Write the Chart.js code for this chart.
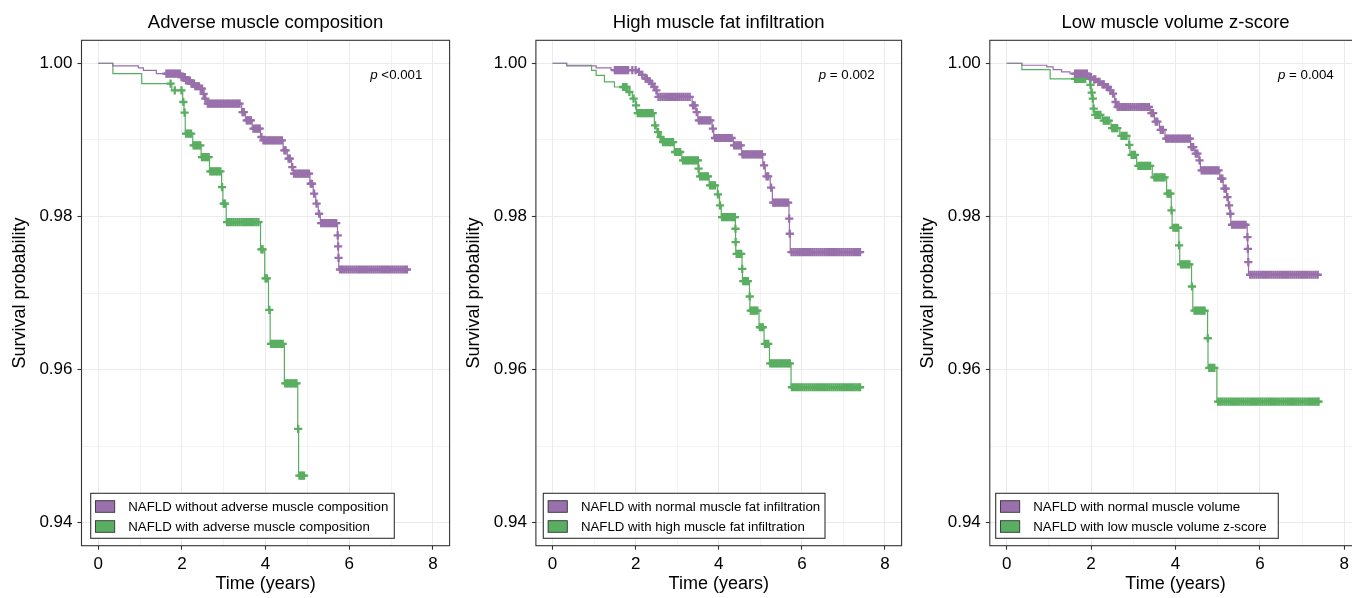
<!DOCTYPE html>
<html>
<head>
<meta charset="utf-8">
<title>NAFLD survival by muscle composition</title>
<script src="https://cdn.jsdelivr.net/npm/chart.js@4.4.1/dist/chart.umd.min.js"></script>
<style>
  html, body { margin: 0; padding: 0; background: #fff; overflow: hidden; }
  body { width: 1352px; height: 598px; position: relative; }
  .panel { position: absolute; top: 0; height: 598px; }
</style>
</head>
<body>
<div class="panel" style="left:0;width:456px"><canvas id="amc"></canvas></div>
<div class="panel" style="left:456px;width:452px"><canvas id="mfi"></canvas></div>
<div class="panel" style="left:908px;width:460px"><canvas id="mvz"></canvas></div>

<script>
// ── 軸刻度 ────────────────────────────────────────────────
const xTicks  = [0, 1, 2, 3, 4, 5, 6, 7, 8];
const xLabels = [0, 2, 4, 6, 8];
const yTicks  = [0.94, 0.95, 0.96, 0.97, 0.98, 0.99, 1.00];
const yLabels = [0.94, 0.96, 0.98, 1.00];

const panelTitles = ['Adverse muscle composition', 'High muscle fat infiltration', 'Low muscle volume z-score'];
const pValues     = ['<0.001', '= 0.002', '= 0.004'];

// ── Panel 1: adverse muscle composition ───────────────────
const amcLabels = ['NAFLD without adverse muscle composition', 'NAFLD with adverse muscle composition'];

const amcNoT = [0, 0.35, 0.96, 1.08, 1.39, 1.97, 2.10, 2.20, 2.32, 2.42, 2.50, 2.54, 2.60, 3.43, 3.52, 3.68, 3.88, 3.93,
  4.42, 4.52, 4.62, 4.66, 5.06, 5.14, 5.20, 5.26, 5.31, 5.72, 5.73, 5.74, 5.75, 7.41];
const amcNoS = [1, 0.99965, 0.99939, 0.99908, 0.99865, 0.9982, 0.99775, 0.99735, 0.9970, 0.9967, 0.9960, 0.99539, 0.99473,
  0.99363, 0.99255, 0.99146, 0.99037, 0.98993, 0.98863, 0.98754, 0.98644, 0.98558, 0.98427, 0.98297, 0.98166, 0.98035,
  0.97913, 0.97752, 0.97608, 0.9746, 0.97307, 0.97307];
const amcNoCens = [1.63, 1.67, 1.71, 1.75, 1.79, 1.83, 1.87, 1.91, 1.95, 1.99, 2.03, 2.07, 2.10, 2.13, 2.16, 2.19, 2.23,
  2.26, 2.29, 2.32, 2.35, 2.38, 2.41, 2.45, 2.48, 2.52, 2.56, 2.62, 2.66, 2.70, 2.74, 2.78, 2.82, 2.86, 2.90, 2.94, 2.98,
  3.02, 3.06, 3.10, 3.14, 3.18, 3.22, 3.26, 3.30, 3.34, 3.38, 3.45, 3.48, 3.55, 3.58, 3.62, 3.65, 3.71, 3.75, 3.79, 3.83,
  3.86, 3.90, 3.95, 3.99, 4.03, 4.07, 4.11, 4.15, 4.19, 4.23, 4.27, 4.31, 4.35, 4.39, 4.45, 4.48, 4.55, 4.58, 4.64, 4.68,
  4.72, 4.76, 4.80, 4.84, 4.88, 4.92, 4.96, 5.00, 5.04, 5.08, 5.11, 5.16, 5.22, 5.28, 5.33, 5.37, 5.41, 5.45, 5.49, 5.53,
  5.57, 5.61, 5.65, 5.69, 5.725, 5.735, 5.745, 5.78, 5.83, 5.88, 5.93, 5.98, 6.03, 6.08, 6.13, 6.18, 6.23, 6.28, 6.33,
  6.38, 6.43, 6.48, 6.53, 6.58, 6.63, 6.68, 6.73, 6.78, 6.83, 6.88, 6.93, 6.98, 7.03, 7.08, 7.13, 7.18, 7.23, 7.28, 7.33,
  7.38];

const amcAdvT = [0, 0.35, 1.04, 1.76, 2.02, 2.05, 2.08, 2.26, 2.46, 2.66, 2.95, 2.98, 3.06, 3.88, 3.98, 4.07, 4.11, 4.45,
  4.77, 4.79, 4.92];
const amcAdvS = [1, 0.99865, 0.99735, 0.99647, 0.99494, 0.99355, 0.99081, 0.98928, 0.98775, 0.98588, 0.98383, 0.98166,
  0.97926, 0.97569, 0.9719, 0.9678, 0.96336, 0.95821, 0.95225, 0.94614, 0.94614];
const amcAdvCens = [1.73, 1.83, 1.99, 2.035, 2.065, 2.10, 2.14, 2.18, 2.22, 2.28, 2.32, 2.36, 2.40, 2.44, 2.48, 2.52, 2.56,
  2.60, 2.64, 2.68, 2.72, 2.76, 2.80, 2.84, 2.88, 2.92, 2.96, 3.00, 3.03, 3.08, 3.13, 3.18, 3.23, 3.28, 3.33, 3.38, 3.43,
  3.48, 3.53, 3.58, 3.63, 3.68, 3.73, 3.78, 3.83, 3.90, 3.93, 4.00, 4.03, 4.09, 4.13, 4.17, 4.21, 4.25, 4.29, 4.33, 4.37,
  4.41, 4.47, 4.51, 4.55, 4.59, 4.63, 4.67, 4.71, 4.74, 4.78, 4.81, 4.85, 4.88, 4.92];

// ── Panel 2: high muscle fat infiltration ─────────────────
const mfiLabels = ['NAFLD with normal muscle fat infiltration', 'NAFLD with high muscle fat infiltration'];

const mfiNormT = [0, 0.34, 1.05, 1.41, 2.05, 2.13, 2.21, 2.30, 2.36, 2.42, 2.48, 2.52, 3.36, 3.45, 3.50, 3.84, 3.88, 4.35,
  4.55, 5.06, 5.12, 5.24, 5.29, 5.69, 5.70, 5.72, 7.40];
const mfiNormS = [1, 0.99965, 0.99939, 0.9991, 0.99887, 0.9985, 0.998, 0.99765, 0.99735, 0.9969, 0.99647, 0.9956, 0.99451,
  0.99363, 0.99255, 0.99146, 0.99024, 0.98928, 0.9881, 0.98667, 0.98523, 0.98375, 0.98179, 0.9797, 0.97774, 0.97533,
  0.97533];
const mfiNormCens = [1.50, 1.54, 1.58, 1.62, 1.66, 1.70, 1.74, 1.78, 1.82, 1.92, 2.00, 2.08, 2.16, 2.24, 2.27, 2.33, 2.39,
  2.45, 2.50, 2.55, 2.60, 2.65, 2.70, 2.75, 2.80, 2.85, 2.90, 2.95, 3.00, 3.05, 3.10, 3.15, 3.20, 3.25, 3.30, 3.38, 3.42,
  3.47, 3.52, 3.56, 3.60, 3.64, 3.68, 3.72, 3.76, 3.80, 3.86, 3.91, 3.95, 3.99, 4.03, 4.07, 4.11, 4.15, 4.19, 4.23, 4.27,
  4.31, 4.37, 4.41, 4.45, 4.49, 4.53, 4.57, 4.61, 4.65, 4.69, 4.73, 4.77, 4.81, 4.85, 4.89, 4.93, 4.97, 5.01, 5.04, 5.09,
  5.15, 5.19, 5.26, 5.31, 5.35, 5.39, 5.43, 5.47, 5.51, 5.55, 5.59, 5.63, 5.67, 5.695, 5.71, 5.75, 5.80, 5.85, 5.90, 5.95,
  6.00, 6.05, 6.10, 6.15, 6.20, 6.25, 6.30, 6.35, 6.40, 6.45, 6.50, 6.55, 6.60, 6.65, 6.70, 6.75, 6.80, 6.85, 6.90, 6.95,
  7.00, 7.05, 7.10, 7.15, 7.20, 7.25, 7.30, 7.35, 7.40];

const mfiHighT = [0, 0.34, 0.94, 1.05, 1.25, 1.49, 1.80, 1.92, 2.00, 2.02, 2.45, 2.51, 2.58, 2.62, 2.93, 3.11, 3.51, 3.52,
  3.77, 3.97, 4.02, 4.06, 4.40, 4.405, 4.41, 4.56, 4.57, 4.74, 4.75, 4.97, 5.09, 5.22, 5.74, 7.40];
const mfiHighS = [1, 0.99974, 0.99908, 0.99843, 0.99756, 0.9969, 0.99625, 0.99538, 0.99451, 0.9935, 0.9919, 0.99102,
  0.99037, 0.98971, 0.98841, 0.98732, 0.98624, 0.98523, 0.98405, 0.98288, 0.98144, 0.97991, 0.97839, 0.97664, 0.97512,
  0.97316, 0.97154, 0.96954, 0.96771, 0.96553, 0.96336, 0.96082, 0.95769, 0.95769];
const mfiHighCens = [1.70, 1.74, 1.78, 1.85, 1.95, 2.01, 2.05, 2.09, 2.13, 2.17, 2.21, 2.25, 2.29, 2.33, 2.37, 2.41, 2.47,
  2.54, 2.60, 2.66, 2.70, 2.74, 2.78, 2.82, 2.86, 2.90, 2.95, 2.99, 3.03, 3.07, 3.14, 3.18, 3.22, 3.26, 3.30, 3.34, 3.38,
  3.42, 3.46, 3.50, 3.515, 3.55, 3.59, 3.63, 3.67, 3.71, 3.74, 3.79, 3.83, 3.87, 3.91, 3.98, 4.03, 4.08, 4.12, 4.16, 4.20,
  4.24, 4.28, 4.32, 4.36, 4.39, 4.402, 4.407, 4.43, 4.47, 4.51, 4.54, 4.565, 4.59, 4.63, 4.67, 4.70, 4.745, 4.77, 4.81,
  4.85, 4.89, 4.93, 4.99, 5.03, 5.06, 5.11, 5.15, 5.19, 5.24, 5.28, 5.32, 5.36, 5.40, 5.44, 5.48, 5.52, 5.56, 5.60, 5.64,
  5.68, 5.71, 5.76, 5.81, 5.86, 5.91, 5.96, 6.01, 6.06, 6.11, 6.16, 6.21, 6.26, 6.31, 6.36, 6.41, 6.46, 6.51, 6.56, 6.61,
  6.66, 6.71, 6.76, 6.81, 6.86, 6.91, 6.96, 7.01, 7.06, 7.11, 7.16, 7.21, 7.26, 7.31, 7.36, 7.40];

// ── Panel 3: low muscle volume z-score ────────────────────
const mvzLabels = ['NAFLD with normal muscle volume', 'NAFLD with low muscle volume z-score'];

const mvzNormT = [0, 0.36, 0.95, 1.10, 1.30, 1.50, 1.93, 2.03, 2.13, 2.23, 2.33, 2.43, 2.49, 2.56, 2.60, 3.40, 3.50, 3.62,
  3.75, 4.36, 4.46, 4.56, 4.59, 5.05, 5.13, 5.21, 5.25, 5.29, 5.31, 5.70, 5.71, 5.72, 5.73, 7.39];
const mvzNormS = [1, 0.99974, 0.99952, 0.99918, 0.99887, 0.99865, 0.9982, 0.9979, 0.99756, 0.99725, 0.9969, 0.99645,
  0.99603, 0.99494, 0.99429, 0.99348, 0.99239, 0.9913, 0.99016, 0.98906, 0.98819, 0.98732, 0.98601, 0.98493, 0.98362,
  0.98252, 0.98144, 0.98035, 0.97891, 0.9773, 0.97577, 0.97403, 0.97238, 0.97238];
const mvzNormCens = [1.62, 1.66, 1.70, 1.74, 1.78, 1.82, 1.86, 1.90, 1.97, 2.00, 2.07, 2.10, 2.17, 2.20, 2.27, 2.30, 2.37,
  2.40, 2.46, 2.52, 2.58, 2.63, 2.68, 2.73, 2.78, 2.83, 2.88, 2.93, 2.98, 3.03, 3.08, 3.13, 3.18, 3.23, 3.28, 3.33, 3.37,
  3.43, 3.47, 3.53, 3.57, 3.65, 3.70, 3.78, 3.82, 3.86, 3.90, 3.94, 3.98, 4.02, 4.06, 4.10, 4.14, 4.18, 4.22, 4.26, 4.30,
  4.34, 4.38, 4.42, 4.48, 4.52, 4.57, 4.62, 4.66, 4.70, 4.74, 4.78, 4.82, 4.86, 4.90, 4.94, 4.98, 5.02, 5.08, 5.11, 5.16,
  5.19, 5.23, 5.27, 5.30, 5.34, 5.38, 5.42, 5.46, 5.50, 5.54, 5.58, 5.62, 5.66, 5.705, 5.715, 5.725, 5.77, 5.82, 5.87,
  5.92, 5.97, 6.02, 6.07, 6.12, 6.17, 6.22, 6.27, 6.32, 6.37, 6.42, 6.47, 6.52, 6.57, 6.62, 6.67, 6.72, 6.77, 6.82, 6.87,
  6.92, 6.97, 7.02, 7.07, 7.12, 7.17, 7.22, 7.27, 7.32, 7.37];

const mvzLowT = [0, 0.36, 1.03, 1.97, 2.00, 2.03, 2.05, 2.07, 2.27, 2.47, 2.68, 2.90, 2.92, 3.08, 3.45, 3.79, 3.90, 3.92,
  4.08, 4.10, 4.38, 4.41, 4.76, 4.77, 4.98, 7.39];
const mvzLowS = [1, 0.99918, 0.99795, 0.99717, 0.99617, 0.99538, 0.99408, 0.99326, 0.99252, 0.99153, 0.99052, 0.98935,
  0.98805, 0.98661, 0.98509, 0.98297, 0.98078, 0.97852, 0.97621, 0.97373, 0.97085, 0.96771, 0.96409, 0.96022, 0.95582,
  0.95582];
const mvzLowCens = [1.62, 1.66, 1.70, 1.74, 1.78, 1.82, 1.86, 1.985, 2.015, 2.04, 2.06, 2.10, 2.14, 2.18, 2.22, 2.30, 2.34,
  2.38, 2.42, 2.50, 2.54, 2.58, 2.62, 2.72, 2.76, 2.80, 2.84, 2.905, 2.96, 3.00, 3.04, 3.12, 3.16, 3.20, 3.24, 3.28, 3.32,
  3.36, 3.40, 3.50, 3.54, 3.58, 3.62, 3.66, 3.70, 3.74, 3.81, 3.85, 3.88, 3.905, 3.95, 3.99, 4.03, 4.06, 4.085, 4.13, 4.17,
  4.21, 4.25, 4.29, 4.33, 4.39, 4.45, 4.49, 4.53, 4.57, 4.61, 4.65, 4.69, 4.765, 4.80, 4.84, 4.88, 4.92, 5.01, 5.06, 5.11,
  5.16, 5.21, 5.26, 5.31, 5.36, 5.41, 5.46, 5.51, 5.56, 5.61, 5.66, 5.71, 5.76, 5.81, 5.86, 5.91, 5.96, 6.01, 6.06, 6.11,
  6.16, 6.21, 6.26, 6.31, 6.36, 6.41, 6.46, 6.51, 6.56, 6.61, 6.66, 6.71, 6.76, 6.81, 6.86, 6.91, 6.96, 7.01, 7.06, 7.11,
  7.16, 7.21, 7.26, 7.31, 7.36, 7.39];

// ── 樣式 ──────────────────────────────────────────────────
const PURPLE = '#9970AB';
const GREEN  = '#5AAE61';
const INK    = '#333333';
const FONT   = '"Liberation Sans", Arial, Helvetica, sans-serif';

Chart.defaults.font.family = FONT;
Chart.defaults.color = '#000';

// KM 階梯值：取 t 時的存活率
function levelAt(times, surv, t) {
  let s = surv[0];
  for (let i = 0; i < times.length; i++) {
    if (times[i] <= t) s = surv[i];
  }
  return s;
}

function stepData(times, surv) {
  return times.map((t, i) => ({ x: t, y: surv[i] }));
}

function censorData(times, surv, cens) {
  return cens.map(t => ({ x: t, y: levelAt(times, surv, t) }));
}

const isMajorX = v => xLabels.some(l => Math.abs(l - v) < 1e-6);
const isMajorY = v => yLabels.some(l => Math.abs(l - v) < 1e-6);

// 外框、圖例、p 值
const kmDecor = {
  id: 'kmDecor',
  afterDatasetsDraw(chart, args, opts) {
    const { ctx, chartArea: a, scales } = chart;
    ctx.save();

    ctx.strokeStyle = INK;
    ctx.lineWidth = 1.1;
    ctx.strokeRect(a.left, a.top, a.right - a.left, a.bottom - a.top);

    // p value
    const px = scales.x.getPixelForValue(7.75);
    const py = scales.y.getPixelForValue(0.9984);
    ctx.textBaseline = 'middle';
    ctx.font = `13.3px ${FONT}`;
    const rest = ' ' + opts.p;
    const restW = ctx.measureText(rest).width;
    ctx.fillStyle = '#000';
    ctx.textAlign = 'left';
    ctx.fillText(rest, px - restW, py);
    ctx.font = `italic 13.3px ${FONT}`;
    const pW = ctx.measureText('p').width;
    ctx.fillText('p', px - restW - pW, py);

    // legend
    const x0 = a.left + opts.legendX;
    const h = 45;
    const y0 = a.bottom - 7.4 - h;
    ctx.fillStyle = '#fff';
    ctx.fillRect(x0, y0, opts.legendW, h);
    ctx.strokeStyle = INK;
    ctx.lineWidth = 1.1;
    ctx.strokeRect(x0, y0, opts.legendW, h);
    ctx.font = `13.25px ${FONT}`;
    opts.labels.forEach((lab, i) => {
      const cy = y0 + 13.2 + i * 20;
      ctx.fillStyle = opts.colors[i];
      ctx.fillRect(x0 + 4.8, cy - 5.8, 19.2, 11.6);
      ctx.strokeStyle = INK;
      ctx.lineWidth = 0.9;
      ctx.strokeRect(x0 + 4.8, cy - 5.8, 19.2, 11.6);
      ctx.fillStyle = '#000';
      ctx.fillText(lab, x0 + 37.6, cy + 0.5);
    });
    ctx.restore();
  },
};

function renderPanel(canvasId, p) {
  const datasets = [];
  p.curves.forEach(c => {
    datasets.push({
      data: stepData(c.t, c.s),
      borderColor: c.color,
      borderWidth: 1.2,
      stepped: 'before',
      pointRadius: 0,
      fill: false,
    });
    datasets.push({
      data: censorData(c.t, c.s, c.cens),
      showLine: false,
      borderColor: c.color,
      backgroundColor: c.color,
      pointStyle: 'cross',
      pointRadius: 4.1,
      pointBorderWidth: 2.3,
    });
  });

  return new Chart(document.getElementById(canvasId), {
    type: 'line',
    data: { datasets },
    plugins: [kmDecor],
    options: {
      responsive: true,
      maintainAspectRatio: false,
      animation: false,
      events: [],
      layout: { padding: { left: 0, right: p.padRight, top: 0, bottom: 0 } },
      plugins: {
        legend: { display: false },
        tooltip: { enabled: false },
        title: {
          display: true,
          fullSize: false,
          text: p.title,
          color: '#000',
          font: { size: 18.5, weight: 'normal' },
          padding: { top: 12, bottom: 6.1 },
        },
        kmDecor: { p: p.pValue, labels: p.labels, colors: [PURPLE, GREEN], legendX: p.legendX, legendW: p.legendW },
      },
      scales: {
        x: {
          type: 'linear',
          min: -0.4, max: 8.4,
          bounds: 'data',
          afterBuildTicks: s => { s.ticks = xTicks.map(v => ({ value: v })); },
          afterFit: s => { s.height = 598 - 545.7; },
          ticks: {
            autoSkip: false, maxRotation: 0,
            padding: 4,
            color: '#000',
            font: { size: 17 },
            callback: v => isMajorX(v) ? String(v) : '',
          },
          grid: {
            color: ctx => isMajorX(ctx.tick.value) ? '#EBEBEB' : '#F0F0F0',
            lineWidth: ctx => isMajorX(ctx.tick.value) ? 1 : 0.8,
            tickColor: ctx => isMajorX(ctx.tick.value) ? INK : 'rgba(0,0,0,0)',
            tickWidth: 1.1,
            tickLength: 4,
          },
          border: { display: false },
          title: {
            display: true, text: 'Time (years)', color: '#000',
            font: { size: 18 }, padding: { top: 0, bottom: 3 },
          },
        },
        y: {
          type: 'linear',
          min: 0.937, max: 1.003,
          bounds: 'data',
          afterBuildTicks: s => { s.ticks = yTicks.map(v => ({ value: v })); },
          afterFit: s => { s.width = p.yWidth; },
          ticks: {
            autoSkip: false,
            padding: 5,
            color: '#000',
            font: { size: 17 },
            callback: v => isMajorY(v) ? v.toFixed(2) : '',
          },
          grid: {
            color: ctx => isMajorY(ctx.tick.value) ? '#EBEBEB' : '#F0F0F0',
            lineWidth: ctx => isMajorY(ctx.tick.value) ? 1 : 0.8,
            tickColor: ctx => isMajorY(ctx.tick.value) ? INK : 'rgba(0,0,0,0)',
            tickWidth: 1.1,
            tickLength: 4,
          },
          border: { display: false },
          title: {
            display: true, text: 'Survival probability', color: '#000',
            font: { size: 18 }, padding: { top: p.yTitlePad, bottom: 0 },
          },
        },
      },
    },
  });
}

renderPanel('amc', {
  title: panelTitles[0], pValue: pValues[0], labels: amcLabels,
  yWidth: 81.5, padRight: 4.1, yTitlePad: 9.2, legendX: 9.2, legendW: 303.6,
  curves: [
    { t: amcNoT,  s: amcNoS,  cens: amcNoCens,  color: PURPLE },
    { t: amcAdvT, s: amcAdvS, cens: amcAdvCens, color: GREEN },
  ],
});

renderPanel('mfi', {
  title: panelTitles[1], pValue: pValues[1], labels: mfiLabels,
  yWidth: 79.9, padRight: 3.3, yTitlePad: 7.6, legendX: 7.4, legendW: 281.7,
  curves: [
    { t: mfiNormT, s: mfiNormS, cens: mfiNormCens, color: PURPLE },
    { t: mfiHighT, s: mfiHighS, cens: mfiHighCens, color: GREEN },
  ],
});

renderPanel('mvz', {
  title: panelTitles[2], pValue: pValues[2], labels: mvzLabels,
  yWidth: 81.8, padRight: 6.8, yTitlePad: 9.5, legendX: 5.9, legendW: 282.6,
  curves: [
    { t: mvzNormT, s: mvzNormS, cens: mvzNormCens, color: PURPLE },
    { t: mvzLowT,  s: mvzLowS,  cens: mvzLowCens,  color: GREEN },
  ],
});
</script>
</body>
</html>
